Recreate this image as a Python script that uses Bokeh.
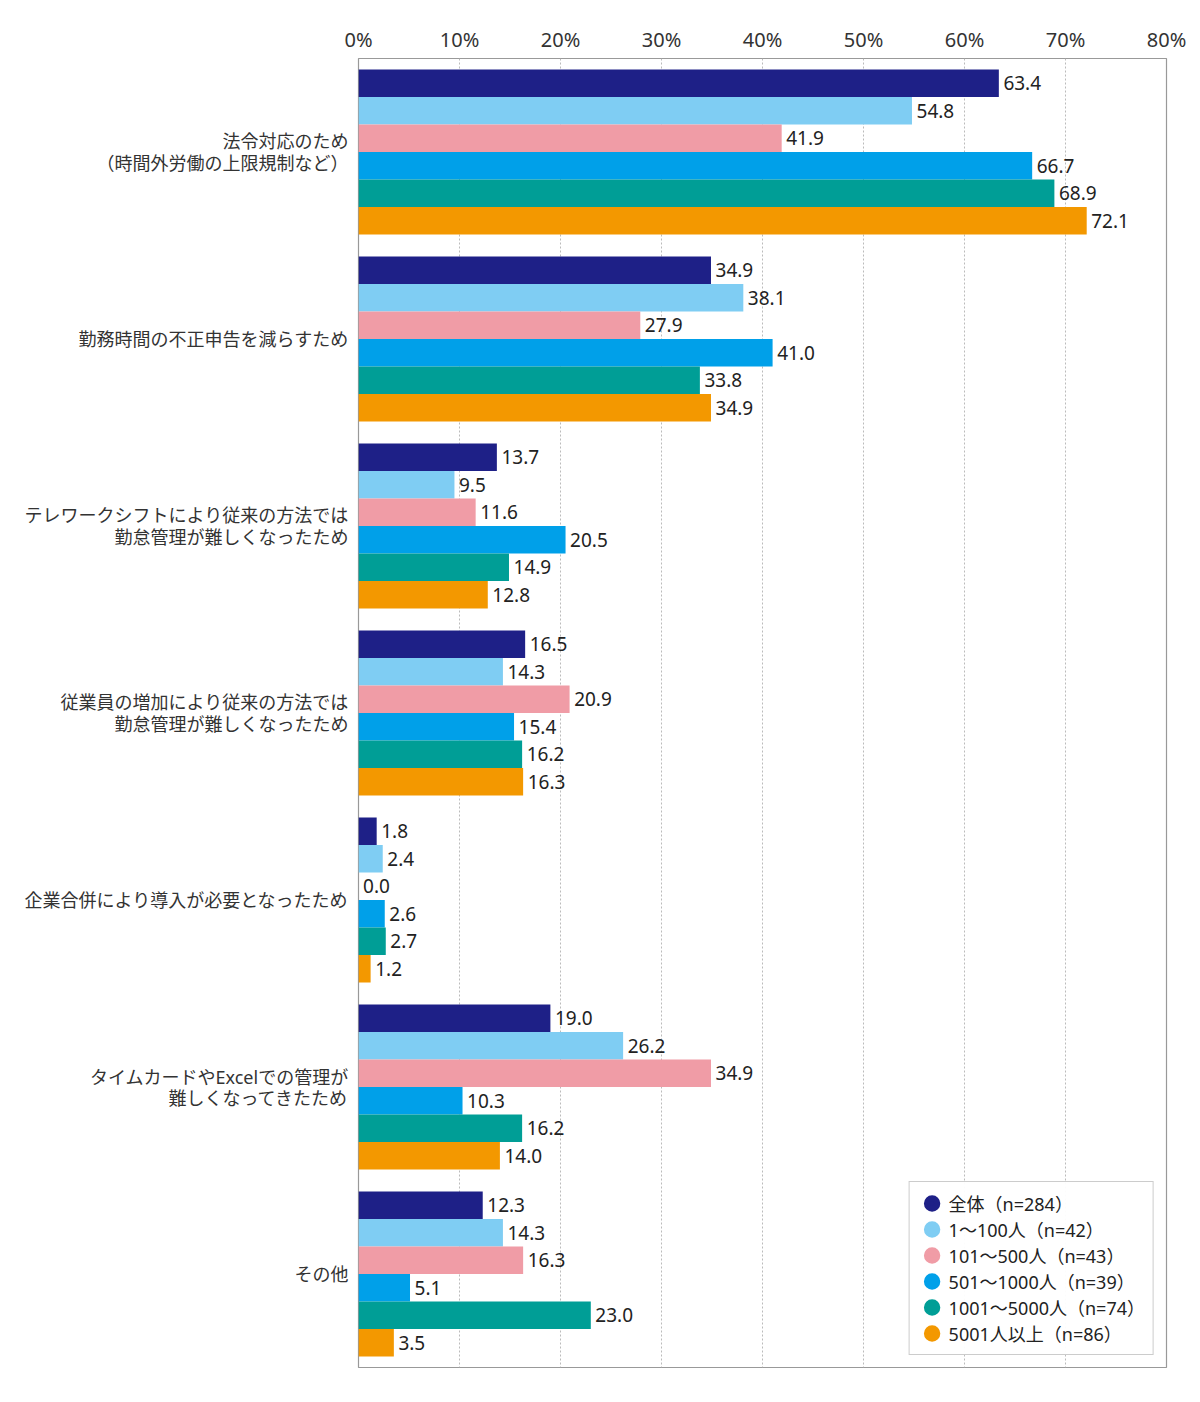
from bokeh.plotting import figure
from bokeh.models import Range1d, FixedTicker, ColumnDataSource, Legend, LegendItem
from bokeh.core.properties import value
from bokeh.embed import file_html
from bokeh.resources import INLINE

categories = [
    ["法令対応のため", "（時間外労働の上限規制など）"],
    ["勤務時間の不正申告を減らすため"],
    ["テレワークシフトにより従来の方法では", "勤怠管理が難しくなったため"],
    ["従業員の増加により従来の方法では", "勤怠管理が難しくなったため"],
    ["企業合併により導入が必要となったため"],
    ["タイムカードやExcelでの管理が", "難しくなってきたため"],
    ["その他"],
]
series_names = ["全体（n=284）", "1～100人（n=42）", "101～500人（n=43）",
                "501～1000人（n=39）", "1001～5000人（n=74）", "5001人以上（n=86）"]
colors = ["#1e2087", "#7fcdf3", "#f09ca6", "#00a0e9", "#009e96", "#f39800"]

total     = [63.4, 34.9, 13.7, 16.5, 1.8, 19.0, 12.3]
s1_100    = [54.8, 38.1, 9.5, 14.3, 2.4, 26.2, 14.3]
s101_500  = [41.9, 27.9, 11.6, 20.9, 0.0, 34.9, 16.3]
s501_1000 = [66.7, 41.0, 20.5, 15.4, 2.6, 10.3, 5.1]
s1001_5000 = [68.9, 33.8, 14.9, 16.2, 2.7, 16.2, 23.0]
s5001 = [72.1, 34.9, 12.8, 16.3, 1.2, 14.0, 3.5]
series = [total, s1_100, s101_500, s501_1000, s1001_5000, s5001]

font = "Noto Sans, Noto Sans CJK JP"
bar_h = 0.147
line_gap = 21 / 187.0   # 21px between label lines, 187px per category

p = figure(width=1192, height=1394, output_backend="svg", toolbar_location=None,
           x_range=Range1d(0, 80), y_range=Range1d(7, 0),
           x_axis_location="above",
           min_border_left=358, min_border_right=26, min_border_top=58, min_border_bottom=27)

p.outline_line_color = "#999999"
p.outline_line_width = 1.2

legend_items = []
for j, (vals, col, name) in enumerate(zip(series, colors, series_names)):
    ys = [i + 0.5 + (j - 2.5) * bar_h for i in range(len(categories))]
    src = ColumnDataSource(dict(y=ys, right=vals,
                                lx=[v + 0.45 for v in vals],
                                lab=["%.1f" % v for v in vals]))
    p.hbar(y="y", left=0, right="right", height=bar_h, color=col, line_color=None, source=src)
    p.text(x="lx", y="y", text="lab", source=src, text_baseline="middle", text_align="left",
           text_font=value(font), text_font_size="19px", text_color="#222222")
    dot = p.scatter(x=[-100], y=[-100], marker="circle", size=17, color=col, line_width=6)
    legend_items.append(LegendItem(label=name, renderers=[dot]))

legend = Legend(items=legend_items, location="bottom_right")
legend.label_text_font = font
legend.label_text_font_size = "18px"
legend.label_text_color = "#222222"
legend.border_line_color = "#999999"
legend.border_line_width = 1.5
legend.glyph_width = 28
legend.glyph_height = 26
legend.spacing = 0
legend.padding = 8
legend.margin = 12
legend.label_standoff = 3
legend.label_height = 22
p.add_layout(legend)

# top axis
xa = p.xaxis[0]
xa.ticker = FixedTicker(ticks=list(range(0, 81, 10)))
xa.major_label_overrides = {k: "%d%%" % k for k in range(0, 81, 10)}
xa.axis_line_color = None
xa.major_tick_line_color = None
xa.minor_tick_line_color = None
xa.major_tick_out = 0
xa.major_tick_in = 0
xa.major_label_text_font = font
xa.major_label_text_font_size = "20px"
xa.major_label_text_color = "#333333"
xa.major_label_standoff = 6

# category labels: one tick per text line
ticks = []
overrides = {}
for i, lines in enumerate(categories):
    n = len(lines)
    for k, line in enumerate(lines):
        t = round(i + 0.5 + (k - (n - 1) / 2) * line_gap, 6)
        ticks.append(t)
        overrides[t] = line
ya = p.yaxis[0]
ya.ticker = FixedTicker(ticks=ticks)
ya.major_label_overrides = overrides
ya.axis_line_color = None
ya.major_tick_line_color = None
ya.minor_tick_line_color = None
ya.major_tick_out = 0
ya.major_tick_in = 0
ya.major_label_text_font = font
ya.major_label_text_font_size = "18px"
ya.major_label_text_color = "#333333"
ya.major_label_standoff = 10

p.xgrid.grid_line_color = "#bbbbbb"
p.xgrid.grid_line_dash = "2 2"
p.xgrid.ticker = FixedTicker(ticks=list(range(10, 80, 10)))
p.ygrid.grid_line_color = None

open("out.html", "w").write(file_html(p, INLINE))
